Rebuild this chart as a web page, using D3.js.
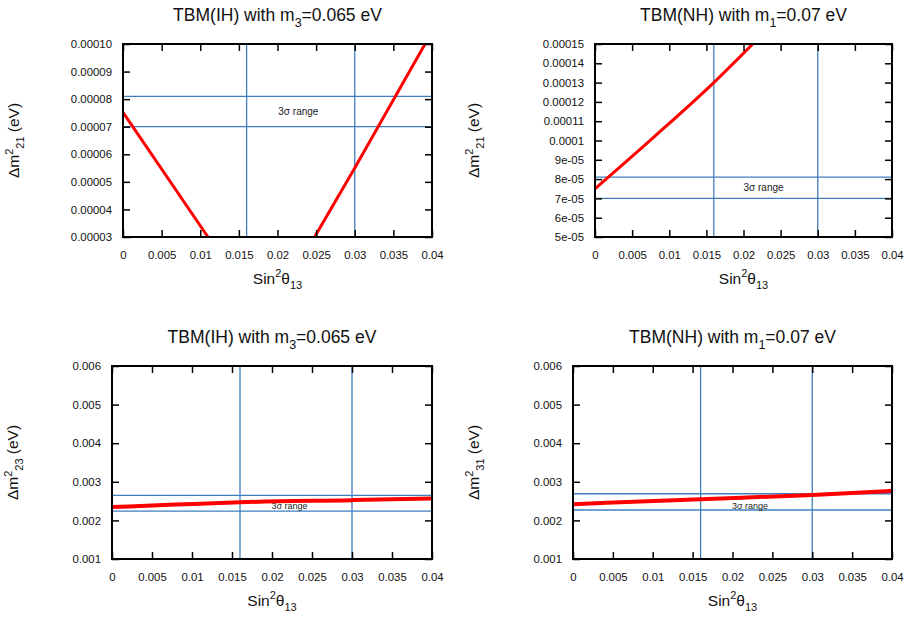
<!DOCTYPE html>
<html>
<head>
<meta charset="utf-8">
<script src="https://cdn.jsdelivr.net/npm/d3@7"></script>
<style>
body { margin: 0; background: #fff; }
svg { font-family: "Liberation Sans", Arial, Helvetica, sans-serif; }
</style>
</head>
<body>
<svg id="chart" width="905" height="617"></svg>
<script>
// DATA
// x axis (sin^2 theta13), same for all four panels
var xTicks = [0, 0.005, 0.01, 0.015, 0.02, 0.025, 0.03, 0.035, 0.04];
var xTickLabels = ["0", "0.005", "0.01", "0.015", "0.02", "0.025", "0.03", "0.035", "0.04"];
var s13Range = [0.016, 0.03];

// top left : TBM(IH), dm^2_21
var ihDm21Ticks = [0.00003, 0.00004, 0.00005, 0.00006, 0.00007, 0.00008, 0.00009, 0.00010];
var ihDm21Labels = ["0.00003", "0.00004", "0.00005", "0.00006", "0.00007", "0.00008", "0.00009", "0.00010"];
var ihDm21Range = [0.000070, 0.000081];
var ihDm21CurveA = [[0, 0.0000752], [0.011, 0.000030]];
var ihDm21CurveB = [[0.0248, 0.000030], [0.03, 0.000055], [0.0391, 0.000100]];

// top right : TBM(NH), dm^2_21
var nhDm21Ticks = [0.00005, 0.00006, 0.00007, 0.00008, 0.00009, 0.0001, 0.00011, 0.00012, 0.00013, 0.00014, 0.00015];
var nhDm21Labels = ["5e-05", "6e-05", "7e-05", "8e-05", "9e-05", "0.0001", "0.00011", "0.00012", "0.00013", "0.00014", "0.00015"];
var nhDm21Range = [0.000070, 0.000081];
var nhDm21Curve = [[0, 0.0000750], [0.008, 0.000102], [0.016, 0.000130], [0.0215, 0.000151]];

// bottom left : TBM(IH), dm^2_23
var dm3xTicks = [0.001, 0.002, 0.003, 0.004, 0.005, 0.006];
var dm3xLabels = ["0.001", "0.002", "0.003", "0.004", "0.005", "0.006"];
var ihDm23Range = [0.00224, 0.00265];
var ihDm23Curve = [[0, 0.002345], [0.008, 0.00241], [0.016, 0.00247], [0.03, 0.002525], [0.04, 0.00257]];

// bottom right : TBM(NH), dm^2_31
var nhDm31Range = [0.00227, 0.00269];
var nhDm31Curve = [[0, 0.00242], [0.016, 0.00255], [0.03, 0.00266], [0.04, 0.002765]];

// PANELS
var panels = [
    { left: 123, right: 432, top: 44, bottom: 237, yLabelX: 19,
      yDomain: [0.00003, 0.0001], yTicks: ihDm21Ticks, yLabels: ihDm21Labels,
      range: ihDm21Range, curves: [ihDm21CurveA, ihDm21CurveB], lw: 3,
      note: [0.0227, 0.0000755], noteSize: 10,
      title: [["TBM(IH) with m"], ["3", "sub"], ["=0.065 eV"]],
      ylab: [["\u0394m"], ["2", "sup"], ["21", "sub"], [" (eV)"]] },
    { left: 595, right: 892, top: 44, bottom: 237, yLabelX: 479,
      yDomain: [0.00005, 0.00015], yTicks: nhDm21Ticks, yLabels: nhDm21Labels,
      range: nhDm21Range, curves: [nhDm21Curve], lw: 3,
      note: [0.0227, 0.0000755], noteSize: 10,
      title: [["TBM(NH) with m"], ["1", "sub"], ["=0.07 eV"]],
      ylab: [["\u0394m"], ["2", "sup"], ["21", "sub"], [" (eV)"]] },
    { left: 112, right: 432, top: 366, bottom: 559, yLabelX: 18,
      yDomain: [0.001, 0.006], yTicks: dm3xTicks, yLabels: dm3xLabels,
      range: ihDm23Range, curves: [ihDm23Curve], lw: 4,
      note: [0.0222, 0.00238], noteSize: 9,
      title: [["TBM(IH) with m"], ["3", "sub"], ["=0.065 eV"]],
      ylab: [["\u0394m"], ["2", "sup"], ["23", "sub"], [" (eV)"]] },
    { left: 573, right: 892, top: 366, bottom: 559, yLabelX: 479,
      yDomain: [0.001, 0.006], yTicks: dm3xTicks, yLabels: dm3xLabels,
      range: nhDm31Range, curves: [nhDm31Curve], lw: 4,
      note: [0.0222, 0.00238], noteSize: 9,
      title: [["TBM(NH) with m"], ["1", "sub"], ["=0.07 eV"]],
      ylab: [["\u0394m"], ["2", "sup"], ["31", "sub"], [" (eV)"]] }
];

var xlab = [["Sin"], ["2", "sup"], ["\u03b8"], ["13", "sub"]];

var blue = "#3f7fbf",
    red = "#ff0000",
    tickLen = 7;

var svg = d3.select("#chart");

// writes text made of normal / sub / sup pieces into a <text>
function richText(sel, parts, size, small) {
    var shift = 0;
    parts.forEach(function(p) {
        var s = p[1] === "sub" ? size * 0.33 : p[1] === "sup" ? -size * 0.42 : 0;
        sel.append("tspan")
            .attr("dy", s - shift)
            .style("font-size", (p[1] ? small : size) + "px")
            .text(p[0]);
        shift = s;
    });
}

panels.forEach(function(p, i) {
    var x = d3.scaleLinear().domain([0, 0.04]).range([p.left, p.right]);
    var y = d3.scaleLinear().domain(p.yDomain).range([p.bottom, p.top]);
    var cx = (p.left + p.right) / 2,
        cy = (p.top + p.bottom) / 2;

    var g = svg.append("g");

    g.append("clipPath").attr("id", "clip" + i)
      .append("rect")
        .attr("x", p.left).attr("y", p.top)
        .attr("width", p.right - p.left).attr("height", p.bottom - p.top);

    // 3 sigma lines
    g.selectAll(".vl").data(s13Range).enter().append("line")
        .attr("x1", function(d) { return x(d); })
        .attr("x2", function(d) { return x(d); })
        .attr("y1", p.top).attr("y2", p.bottom)
        .style("stroke", blue).style("stroke-width", 1.3);
    g.selectAll(".hl").data(p.range).enter().append("line")
        .attr("y1", function(d) { return y(d); })
        .attr("y2", function(d) { return y(d); })
        .attr("x1", p.left).attr("x2", p.right)
        .style("stroke", blue).style("stroke-width", 1.3);

    g.append("text")
        .attr("x", x(p.note[0])).attr("y", y(p.note[1]))
        .attr("dy", "0.35em")
        .attr("text-anchor", "middle")
        .style("font-size", p.noteSize + "px")
        .style("fill", "#222")
        .text("3\u03c3 range");

    // the curves
    var line = d3.line()
        .x(function(d) { return x(d[0]); })
        .y(function(d) { return y(d[1]); })
        .curve(d3.curveMonotoneX);
    g.append("g").attr("clip-path", "url(#clip" + i + ")")
      .selectAll("path").data(p.curves).enter().append("path")
        .attr("d", line)
        .style("fill", "none")
        .style("stroke", red)
        .style("stroke-width", p.lw)
        .style("stroke-linecap", "butt");

    // axes: ticks inside, mirrored
    g.append("g").attr("transform", "translate(0," + p.bottom + ")")
        .call(d3.axisBottom(x).tickValues(xTicks).tickSize(-tickLen).tickPadding(14)
            .tickFormat(function(d, j) { return xTickLabels[j]; }));
    g.append("g").attr("transform", "translate(0," + p.top + ")")
        .call(d3.axisTop(x).tickValues(xTicks).tickSize(-tickLen).tickFormat(""));
    g.append("g").attr("transform", "translate(" + p.left + ",0)")
        .call(d3.axisLeft(y).tickValues(p.yTicks).tickSize(-tickLen).tickPadding(11)
            .tickFormat(function(d, j) { return p.yLabels[j]; }));
    g.append("g").attr("transform", "translate(" + p.right + ",0)")
        .call(d3.axisRight(y).tickValues(p.yTicks).tickSize(-tickLen).tickFormat(""));

    g.selectAll(".domain").remove();
    g.selectAll(".tick line").style("stroke", "#000").style("stroke-width", 1.5);
    g.selectAll(".tick text")
        .style("font-family", "\"Liberation Sans\", Arial, sans-serif")
        .style("font-size", "11.4px").style("fill", "#111");

    // frame
    g.append("rect")
        .attr("x", p.left).attr("y", p.top)
        .attr("width", p.right - p.left).attr("height", p.bottom - p.top)
        .style("fill", "none").style("stroke", "#000").style("stroke-width", 2);

    // title and axis labels
    var t = g.append("text").attr("x", cx).attr("y", p.top - 23)
        .attr("text-anchor", "middle").style("fill", "#111");
    richText(t, p.title, 17.5, 12.5);

    var xl = g.append("text").attr("x", cx).attr("y", p.bottom + 47)
        .attr("text-anchor", "middle").style("fill", "#111");
    richText(xl, xlab, 15.5, 11);

    var yl = g.append("text")
        .attr("transform", "translate(" + p.yLabelX + "," + cy + ") rotate(-90)")
        .attr("text-anchor", "middle").attr("dy", "0.35em").style("fill", "#111");
    richText(yl, p.ylab, 15.5, 11);
});
</script>
</body>
</html>
